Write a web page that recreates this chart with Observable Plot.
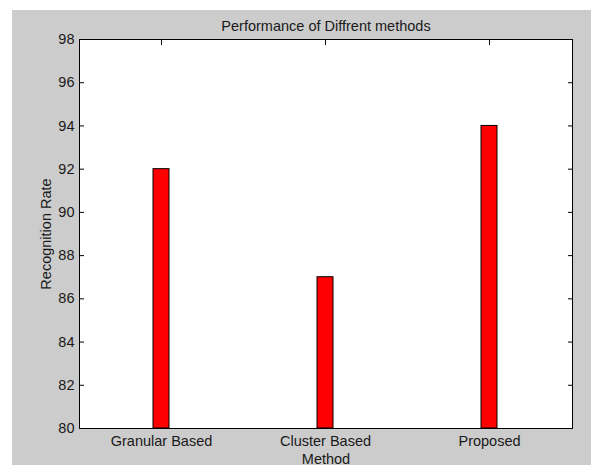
<!DOCTYPE html>
<html><head><meta charset="utf-8">
<script src="https://cdn.jsdelivr.net/npm/d3@7"></script>
<script src="https://cdn.jsdelivr.net/npm/@observablehq/plot@0.6"></script>
<style>
html,body{margin:0;padding:0;background:#fff;}
#chart{position:absolute;left:12px;top:10px;}
</style></head><body><div id="chart"></div>
<script>
const methods = ["Granular Based", "Cluster Based", "Proposed"];
const rates = [92, 87, 94];
const yTicks = [80, 82, 84, 86, 88, 90, 92, 94, 96, 98];
const yDomain = [80, 98];
const title = "Performance of Diffrent methods";
const xLabel = "Method";
const yLabel = "Recognition Rate";

const data = methods.map((m, i) => ({method: m, rate: rates[i]}));
const font = "'Liberation Sans', Arial, sans-serif";
const fs = 14.5;

const plot = Plot.plot({
  width: 579, height: 455,
  marginLeft: 67, marginRight: 19, marginTop: 29, marginBottom: 37,
  style: {background: "#cccccc", fontFamily: font, fontSize: fs + "px", color: "#1a1a1a", overflow: "visible"},
  x: {type: "band", domain: methods, paddingInner: 0.9, paddingOuter: 0.45, axis: null, label: null},
  y: {domain: yDomain, axis: null, label: null},
  marks: [
    Plot.frame({fill: "white", stroke: null}),
    // inward ticks on all four sides
    Plot.axisY(yTicks, {anchor: "left", tickSize: -5, tickFormat: () => "", label: null, stroke: "#000"}),
    Plot.axisY(yTicks, {anchor: "right", tickSize: -5, tickFormat: () => "", label: null, stroke: "#000"}),
    Plot.axisX({anchor: "top", tickSize: -5, tickFormat: () => "", label: null, stroke: "#000"}),
    Plot.axisX({anchor: "bottom", tickSize: -5, tickFormat: () => "", label: null, stroke: "#000"}),
    // tick labels
    Plot.axisY(yTicks, {anchor: "left", tickSize: 0, tickPadding: 5, label: null, fontSize: fs}),
    Plot.axisX({anchor: "bottom", tickSize: 0, tickPadding: 7, label: null, fontSize: fs}),
    // bars
    Plot.barY(data, {x: "method", y1: yDomain[0], y2: "rate", fill: "#ff0000", stroke: "#000", strokeWidth: 1}),
    Plot.frame({stroke: "#000", fill: null}),
    // title & axis labels
    Plot.text([title], {frameAnchor: "top", dy: -9, lineAnchor: "bottom", fontSize: fs, fill: "#1a1a1a"}),
    Plot.text([xLabel], {frameAnchor: "bottom", dy: 35, lineAnchor: "bottom", fontSize: fs, fill: "#1a1a1a"}),
    Plot.text([yLabel], {frameAnchor: "left", dx: -29, rotate: -90, lineAnchor: "bottom", textAnchor: "middle", fontSize: fs, fill: "#1a1a1a"})
  ]
});
document.getElementById("chart").appendChild(plot);
</script>
</body></html>
